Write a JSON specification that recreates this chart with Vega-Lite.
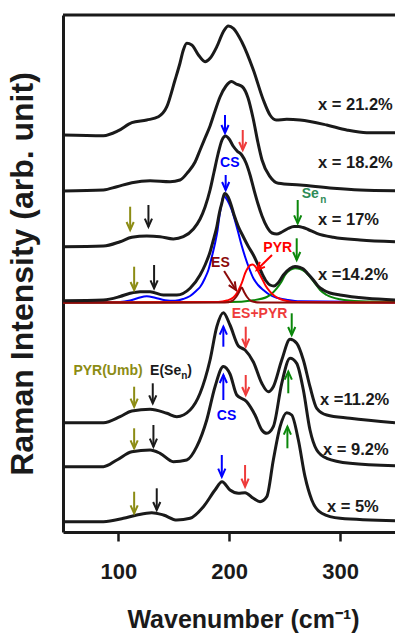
{
"$schema":"https://vega.github.io/schema/vega-lite/v6.json",
"width":332,"height":517,
"autosize":"none",
"padding":{"left":63,"top":15,"right":0,"bottom":105},
"background":"white",
"config":{"view":{"stroke":null}},
"datasets":{
"curves":[
{"s":"21.2","w":50.1,"v":397},{"s":"21.2","w":86.5,"v":396.3},{"s":"21.2","w":100,"v":401.3},{"s":"21.2","w":112.1,"v":409.3},{"s":"21.2","w":125.6,"v":412},{"s":"21.2","w":136.1,"v":415.3},{"s":"21.2","w":143.7,"v":425.3},{"s":"21.2","w":151.1,"v":452},{"s":"21.2","w":155.6,"v":469},{"s":"21.2","w":158.6,"v":482},{"s":"21.2","w":161.7,"v":488.7},{"s":"21.2","w":166.2,"v":487},{"s":"21.2","w":172.2,"v":477},{"s":"21.2","w":178.2,"v":470.3},{"s":"21.2","w":182.7,"v":473.7},{"s":"21.2","w":188.8,"v":485.3},{"s":"21.2","w":194.7,"v":500.3},{"s":"21.2","w":199.2,"v":506},{"s":"21.2","w":203.7,"v":503.7},{"s":"21.2","w":211.3,"v":490.3},{"s":"21.2","w":221.8,"v":462},{"s":"21.2","w":230.8,"v":432},{"s":"21.2","w":236.8,"v":417},{"s":"21.2","w":242.3,"v":412},{"s":"21.2","w":251.9,"v":412.7},{"s":"21.2","w":263.9,"v":412},{"s":"21.2","w":288,"v":407},{"s":"21.2","w":306,"v":402},{"s":"21.2","w":324.1,"v":399.3},{"s":"21.2","w":349.6,"v":399.3},
{"s":"18.2","w":50.1,"v":341},{"s":"18.2","w":86.5,"v":342},{"s":"18.2","w":98.6,"v":345.3},{"s":"18.2","w":112.1,"v":349.3},{"s":"18.2","w":128.6,"v":351.3},{"s":"18.2","w":146.6,"v":350.3},{"s":"18.2","w":155.6,"v":352},{"s":"18.2","w":163.1,"v":360.3},{"s":"18.2","w":169.2,"v":370},{"s":"18.2","w":173.7,"v":382},{"s":"18.2","w":178.2,"v":394},{"s":"18.2","w":182.7,"v":406},{"s":"18.2","w":187.2,"v":421},{"s":"18.2","w":191.7,"v":435},{"s":"18.2","w":197.1,"v":446},{"s":"18.2","w":202.1,"v":450.5},{"s":"18.2","w":206.2,"v":448},{"s":"18.2","w":211.6,"v":445.5},{"s":"18.2","w":217,"v":434},{"s":"18.2","w":221.5,"v":414},{"s":"18.2","w":226,"v":389},{"s":"18.2","w":229.6,"v":372},{"s":"18.2","w":236.8,"v":355.3},{"s":"18.2","w":244.3,"v":348.7},{"s":"18.2","w":263.9,"v":347},{"s":"18.2","w":293.9,"v":343.7},{"s":"18.2","w":318,"v":342},{"s":"18.2","w":349.6,"v":341.3},
{"s":"17","w":50.1,"v":285.3},{"s":"17","w":86.5,"v":286},{"s":"17","w":101.5,"v":290.3},{"s":"17","w":112.1,"v":294.7},{"s":"17","w":125.6,"v":296},{"s":"17","w":137.6,"v":295.3},{"s":"17","w":149.6,"v":293},{"s":"17","w":158.6,"v":295.3},{"s":"17","w":167.7,"v":303},{"s":"17","w":173.7,"v":313},{"s":"17","w":178.2,"v":325},{"s":"17","w":182.7,"v":342},{"s":"17","w":186.3,"v":360},{"s":"17","w":189.9,"v":378},{"s":"17","w":193.5,"v":392},{"s":"17","w":196.7,"v":396},{"s":"17","w":199.9,"v":393},{"s":"17","w":203.5,"v":386},{"s":"17","w":207.1,"v":381},{"s":"17","w":211.3,"v":377},{"s":"17","w":215.2,"v":369},{"s":"17","w":218.8,"v":357},{"s":"17","w":222.4,"v":342},{"s":"17","w":226,"v":328},{"s":"17","w":229.6,"v":316},{"s":"17","w":234.1,"v":305},{"s":"17","w":238.6,"v":299},{"s":"17","w":242.9,"v":298},{"s":"17","w":247.6,"v":300},{"s":"17","w":253.1,"v":303.5},{"s":"17","w":258.5,"v":305.5},{"s":"17","w":262.4,"v":305.5},{"s":"17","w":266.6,"v":304.5},{"s":"17","w":271.2,"v":302.5},{"s":"17","w":279,"v":298.7},{"s":"17","w":294,"v":294.7},{"s":"17","w":318,"v":292},{"s":"17","w":349.6,"v":290.3},
{"s":"14.2","w":50.1,"v":231.3},{"s":"14.2","w":86.5,"v":232},{"s":"14.2","w":101.5,"v":235.5},{"s":"14.2","w":110.6,"v":238.7},{"s":"14.2","w":119.6,"v":240.3},{"s":"14.2","w":128.6,"v":240.3},{"s":"14.2","w":140.6,"v":237},{"s":"14.2","w":152.7,"v":237},{"s":"14.2","w":164.7,"v":243.7},{"s":"14.2","w":173.7,"v":257},{"s":"14.2","w":178.2,"v":267},{"s":"14.2","w":182.7,"v":280},{"s":"14.2","w":185.7,"v":292},{"s":"14.2","w":188.8,"v":305.3},{"s":"14.2","w":191.3,"v":320},{"s":"14.2","w":193.3,"v":328.7},{"s":"14.2","w":195.8,"v":338.5},{"s":"14.2","w":199,"v":335},{"s":"14.2","w":201.7,"v":327},{"s":"14.2","w":204.4,"v":317},{"s":"14.2","w":208,"v":306},{"s":"14.2","w":212.8,"v":295},{"s":"14.2","w":217,"v":286},{"s":"14.2","w":221.8,"v":277},{"s":"14.2","w":226.1,"v":267},{"s":"14.2","w":229.4,"v":259},{"s":"14.2","w":233.3,"v":251},{"s":"14.2","w":236.8,"v":247},{"s":"14.2","w":240.4,"v":246},{"s":"14.2","w":244,"v":249},{"s":"14.2","w":248.9,"v":257},{"s":"14.2","w":254.9,"v":263.5},{"s":"14.2","w":259.4,"v":265.5},{"s":"14.2","w":263.9,"v":264.5},{"s":"14.2","w":266.9,"v":263},{"s":"14.2","w":271.2,"v":258},{"s":"14.2","w":275.9,"v":252},{"s":"14.2","w":280.1,"v":246},{"s":"14.2","w":284.9,"v":242},{"s":"14.2","w":290.9,"v":239},{"s":"14.2","w":300,"v":237},{"s":"14.2","w":324.1,"v":233.7},{"s":"14.2","w":349.6,"v":232},
{"s":"11.2","w":50.1,"v":109.3},{"s":"11.2","w":86.5,"v":109.3},{"s":"11.2","w":101.5,"v":115.3},{"s":"11.2","w":112.1,"v":121},{"s":"11.2","w":128.6,"v":122.7},{"s":"11.2","w":143.7,"v":118.7},{"s":"11.2","w":152.7,"v":115.3},{"s":"11.2","w":164.7,"v":122},{"s":"11.2","w":173.7,"v":138.7},{"s":"11.2","w":182.7,"v":172},{"s":"11.2","w":188.8,"v":205.3},{"s":"11.2","w":194.7,"v":219.3},{"s":"11.2","w":200.7,"v":207},{"s":"11.2","w":208.3,"v":186},{"s":"11.2","w":214.3,"v":182},{"s":"11.2","w":221.8,"v":170},{"s":"11.2","w":229.4,"v":148.7},{"s":"11.2","w":235.3,"v":140.3},{"s":"11.2","w":239.8,"v":145.3},{"s":"11.2","w":247.4,"v":172},{"s":"11.2","w":254.9,"v":192.7},{"s":"11.2","w":260.9,"v":188.7},{"s":"11.2","w":266.9,"v":172},{"s":"11.2","w":272.9,"v":145.3},{"s":"11.2","w":279,"v":123.7},{"s":"11.2","w":288,"v":117},{"s":"11.2","w":309,"v":113.7},{"s":"11.2","w":349.6,"v":109.3},
{"s":"9.2","w":50.1,"v":65.3},{"s":"9.2","w":86.5,"v":65.3},{"s":"9.2","w":98.6,"v":72},{"s":"9.2","w":112.1,"v":80.3},{"s":"9.2","w":128.6,"v":82},{"s":"9.2","w":137.6,"v":78.7},{"s":"9.2","w":149.6,"v":70.3},{"s":"9.2","w":161.7,"v":72},{"s":"9.2","w":170.7,"v":85.3},{"s":"9.2","w":179.7,"v":112},{"s":"9.2","w":187.2,"v":145.3},{"s":"9.2","w":194.7,"v":165.5},{"s":"9.2","w":200.7,"v":158},{"s":"9.2","w":206.8,"v":137},{"s":"9.2","w":215.8,"v":130.3},{"s":"9.2","w":223.3,"v":117},{"s":"9.2","w":229.4,"v":102},{"s":"9.2","w":233.9,"v":98.7},{"s":"9.2","w":239.8,"v":105.3},{"s":"9.2","w":247.4,"v":148.7},{"s":"9.2","w":254.9,"v":173.7},{"s":"9.2","w":260.9,"v":168.7},{"s":"9.2","w":266.9,"v":142},{"s":"9.2","w":272.9,"v":102},{"s":"9.2","w":279,"v":82},{"s":"9.2","w":288,"v":73.7},{"s":"9.2","w":309,"v":68.7},{"s":"9.2","w":349.6,"v":66.3},
{"s":"5","w":50.1,"v":10.3},{"s":"5","w":86.5,"v":10.3},{"s":"5","w":104.5,"v":13.7},{"s":"5","w":116.6,"v":17},{"s":"5","w":130.1,"v":19.3},{"s":"5","w":140.6,"v":17},{"s":"5","w":152.7,"v":12},{"s":"5","w":164.7,"v":13.7},{"s":"5","w":176.7,"v":25.3},{"s":"5","w":187.2,"v":42},{"s":"5","w":193.5,"v":50.3},{"s":"5","w":200.7,"v":42},{"s":"5","w":208.3,"v":38.7},{"s":"5","w":214.3,"v":39.3},{"s":"5","w":221.8,"v":33.7},{"s":"5","w":227.8,"v":30.3},{"s":"5","w":233.9,"v":35.3},{"s":"5","w":239.8,"v":72},{"s":"5","w":245.9,"v":105.3},{"s":"5","w":251.9,"v":119.3},{"s":"5","w":256.4,"v":117},{"s":"5","w":262.4,"v":92},{"s":"5","w":268.4,"v":55.3},{"s":"5","w":274.5,"v":32},{"s":"5","w":283.5,"v":18.7},{"s":"5","w":300,"v":13.7},{"s":"5","w":349.6,"v":11.3}
],
"fits":[
{"c":"CS","w":50,"v":229.8},{"c":"CS","w":101.5,"v":230},{"c":"CS","w":110.6,"v":231.5},{"c":"CS","w":117.8,"v":234},{"c":"CS","w":125.6,"v":235.8},{"c":"CS","w":133.1,"v":234.3},{"c":"CS","w":142.1,"v":231.8},{"c":"CS","w":151.1,"v":231.2},{"c":"CS","w":158.4,"v":233},{"c":"CS","w":164.7,"v":236},{"c":"CS","w":170.1,"v":241},{"c":"CS","w":173.7,"v":245},{"c":"CS","w":178.2,"v":254},{"c":"CS","w":181.2,"v":262},{"c":"CS","w":184.5,"v":276},{"c":"CS","w":187.2,"v":288.7},{"c":"CS","w":189.5,"v":302},{"c":"CS","w":191.1,"v":315.3},{"c":"CS","w":193.1,"v":328},{"c":"CS","w":194.9,"v":336},{"c":"CS","w":197.1,"v":334},{"c":"CS","w":199.9,"v":328.5},{"c":"CS","w":202.3,"v":322},{"c":"CS","w":205.3,"v":311},{"c":"CS","w":208.3,"v":298.7},{"c":"CS","w":211.1,"v":287},{"c":"CS","w":214.3,"v":275.3},{"c":"CS","w":217.9,"v":264},{"c":"CS","w":221.8,"v":253.7},{"c":"CS","w":226,"v":247},{"c":"CS","w":230.8,"v":242},{"c":"CS","w":236.8,"v":237},{"c":"CS","w":242.9,"v":234.3},{"c":"CS","w":253.1,"v":232},{"c":"CS","w":263.9,"v":230.7},{"c":"CS","w":349.6,"v":229.8},
{"c":"Sen","w":50,"v":229.6},{"c":"Sen","w":200,"v":229.9},{"c":"Sen","w":221.8,"v":231.8},{"c":"Sen","w":233.9,"v":235},{"c":"Sen","w":242.9,"v":243.7},{"c":"Sen","w":247,"v":250},{"c":"Sen","w":250.4,"v":257},{"c":"Sen","w":255,"v":262},{"c":"Sen","w":259.4,"v":263.8},{"c":"Sen","w":264,"v":263},{"c":"Sen","w":268.4,"v":260.3},{"c":"Sen","w":273,"v":255},{"c":"Sen","w":277.4,"v":248.7},{"c":"Sen","w":282,"v":242},{"c":"Sen","w":288,"v":237},{"c":"Sen","w":300,"v":232.8},{"c":"Sen","w":318,"v":230.8},{"c":"Sen","w":349.6,"v":230.2},
{"c":"PYR","w":50,"v":229.5},{"c":"PYR","w":190,"v":230},{"c":"PYR","w":198,"v":231.5},{"c":"PYR","w":203.7,"v":234.5},{"c":"PYR","w":207,"v":239},{"c":"PYR","w":209.8,"v":245},{"c":"PYR","w":212,"v":251},{"c":"PYR","w":214.3,"v":258.7},{"c":"PYR","w":216.5,"v":263.5},{"c":"PYR","w":219,"v":266.8},{"c":"PYR","w":221,"v":267.5},{"c":"PYR","w":223.3,"v":265.8},{"c":"PYR","w":226,"v":261},{"c":"PYR","w":229.4,"v":253.7},{"c":"PYR","w":233,"v":246},{"c":"PYR","w":236.8,"v":240.3},{"c":"PYR","w":241,"v":236},{"c":"PYR","w":245.9,"v":233},{"c":"PYR","w":252,"v":231},{"c":"PYR","w":260,"v":230},{"c":"PYR","w":349.6,"v":229.5},
{"c":"ES","w":50,"v":229.3},{"c":"ES","w":196,"v":229.4},{"c":"ES","w":202.6,"v":231},{"c":"ES","w":206.2,"v":235},{"c":"ES","w":208.9,"v":240},{"c":"ES","w":211.3,"v":244.5},{"c":"ES","w":213.4,"v":240},{"c":"ES","w":216.1,"v":235},{"c":"ES","w":219.7,"v":231},{"c":"ES","w":228,"v":229.4},{"c":"ES","w":349.6,"v":229.3}
],
"arrows":[
{"w0":196.2,"a":417,"w":196.2,"v":399,"b":"CS","d":"down"},
{"w0":212.2,"a":402,"w":212.2,"v":382,"b":"ESPYR","d":"down"},
{"w0":196.8,"a":357,"w":196.8,"v":342,"b":"CS","d":"down"},
{"w0":110.6,"a":325.3,"w":110.6,"v":302,"b":"Umb","d":"down"},
{"w0":127.1,"a":327,"w":127.1,"v":305.3,"b":"E","d":"down"},
{"w0":261.8,"a":332,"w":261.8,"v":308.7,"b":"Sen","d":"down"},
{"w0":114.2,"a":265.3,"w":114.2,"v":242,"b":"Umb","d":"down"},
{"w0":132.2,"a":267,"w":132.2,"v":243.7,"b":"E","d":"down"},
{"w0":260.9,"a":293.7,"w":260.9,"v":272,"b":"Sen","d":"down"},
{"w0":256.4,"a":218.7,"w":256.4,"v":197,"b":"Sen","d":"down"},
{"w0":214.9,"a":205.3,"w":214.9,"v":185.3,"b":"ESPYR","d":"down"},
{"w0":214.9,"a":157,"w":214.9,"v":137,"b":"ESPYR","d":"down"},
{"w0":193.3,"a":77,"w":193.3,"v":55.3,"b":"CS","d":"down"},
{"w0":214.3,"a":67,"w":214.3,"v":45.3,"b":"ESPYR","d":"down"},
{"w0":114.2,"a":145.3,"w":114.2,"v":125.3,"b":"Umb","d":"down"},
{"w0":131,"a":148.7,"w":131,"v":128.7,"b":"E","d":"down"},
{"w0":114.2,"a":103.7,"w":114.2,"v":83.7,"b":"Umb","d":"down"},
{"w0":131.6,"a":107,"w":131.6,"v":85.3,"b":"E","d":"down"},
{"w0":114.2,"a":40.3,"w":114.2,"v":18.7,"b":"Umb","d":"down"},
{"w0":134.6,"a":43.7,"w":134.6,"v":22,"b":"E","d":"down"},
{"w0":194.7,"a":185.3,"w":194.7,"v":205.3,"b":"CS","d":"up"},
{"w0":194.7,"a":132,"w":194.7,"v":157,"b":"CS","d":"up"},
{"w0":253.3,"a":138.7,"w":253.3,"v":160.3,"b":"Sen","d":"up"},
{"w0":252.5,"a":83.7,"w":252.5,"v":105.3,"b":"Sen","d":"up"},
{"w0":195.4,"a":261,"w":206.1,"v":242,"b":"ES","d":"es"},
{"w0":238.6,"a":277,"w":224.8,"v":262,"b":"PYR","d":"pyr"}
],
"samples":[
{"w":280.1,"v":422,"t":"x = 21.2%"},
{"w":280.1,"v":364,"t":"x = 18.2%"},
{"w":280.1,"v":307,"t":"x = 17%"},
{"w":280.1,"v":252,"t":"x =14.2%"},
{"w":281.9,"v":127,"t":"x =11.2%"},
{"w":284.6,"v":77,"t":"x = 9.2%"},
{"w":288.2,"v":20,"t":"x = 5%"}
],
"notes":[
{"w":191.7,"v":365.3,"t":"CS","b":"CS"},
{"w":188.8,"v":112,"t":"CS","b":"CS"},
{"w":265.4,"v":333.7,"t":"Se","b":"SenText"},
{"w":183.6,"v":265.3,"t":"ES","b":"ES"},
{"w":230.8,"v":280.3,"t":"PYR","b":"PYR"},
{"w":202.3,"v":213.7,"t":"ES+PYR","b":"ESPYR"},
{"w":59.4,"v":157,"t":"PYR(Umb)","b":"Umb"},
{"w":128.6,"v":157,"t":"E(Se","b":"E"},
{"w":162.1,"v":157,"t":")","b":"E"}
],
"subs":[
{"w":282.2,"v":329,"t":"n","b":"SenText"},
{"w":156.6,"v":153,"t":"n","b":"E"}
]
},
"encoding":{
 "x":{"field":"w","type":"quantitative","scale":{"domain":[50,349.6],"nice":false,"zero":false},
  "axis":{"values":[100,200,300],"grid":false,"domain":true,"domainColor":"#1a1a1a","domainWidth":3,"ticks":true,"tickSize":9,"tickWidth":2.5,"tickColor":"#1a1a1a","labelFont":"Liberation Sans","labelFontWeight":"bold","labelFontSize":22,"labelColor":"#1a1a1a","labelPadding":20,"title":"Wavenumber (cm⁻¹)","titleFont":"Liberation Sans","titleFontWeight":"bold","titleFontSize":25,"titleColor":"#1a1a1a","titleX":180,"titleY":95,"titleBaseline":"alphabetic","titleAlign":"center"}},
 "y":{"field":"v","type":"quantitative","scale":{"domain":[0,517],"nice":false,"zero":false},
  "axis":{"grid":false,"domain":true,"domainColor":"#1a1a1a","domainWidth":3,"ticks":false,"labels":false,"title":"Raman Intensity (arb. unit)","titleFont":"Liberation Sans","titleFontWeight":"bold","titleFontSize":32,"titleColor":"#1a1a1a","titleAngle":-90,"titleX":-41,"titleY":258.5,"titleBaseline":"middle","titleAlign":"center"}}
},
"layer":[
{"data":{"name":"fits"},
 "mark":{"type":"line","strokeWidth":2,"interpolate":"monotone"},
 "encoding":{
  "color":{"field":"c","type":"nominal","legend":null,"scale":{"domain":["CS","PYR","ES","Sen","ESPYR","SenText","Umb","E"],"range":["#0000ff","#ff0000","#8b0a0a","#0a870a","#ee3b3b","#2e8b57","#8c8c14","#1a1a1a"]}},
  "detail":{"field":"c"}
 }},
{"data":{"name":"curves"},
 "mark":{"type":"line","strokeWidth":3,"color":"#1a1a1a","interpolate":"monotone"},
 "encoding":{"detail":{"field":"s"}}},
{"data":{"name":"arrows"},
 "mark":{"type":"rule","strokeWidth":2},
 "encoding":{
  "x2":{"field":"w0"},
  "y2":{"field":"a"},
  "color":{"field":"b","type":"nominal","legend":null}
 }},
{"data":{"name":"arrows"},
 "transform":[{"filter":"datum.d == 'down'"}],
 "mark":{"type":"point","shape":"M-0.45,-1L0,0L0.45,-1","size":256,"filled":false,"strokeWidth":2,"opacity":1},
 "encoding":{"color":{"field":"b","type":"nominal","legend":null}}},
{"data":{"name":"arrows"},
 "transform":[{"filter":"datum.d == 'up'"}],
 "mark":{"type":"point","shape":"M-0.45,1L0,0L0.45,1","size":256,"filled":false,"strokeWidth":2,"opacity":1},
 "encoding":{"color":{"field":"b","type":"nominal","legend":null}}},
{"data":{"name":"arrows"},
 "transform":[{"filter":"datum.d == 'es'"}],
 "mark":{"type":"point","shape":"M-0.45,-1L0,0L0.45,-1","size":256,"filled":false,"strokeWidth":2,"opacity":1,"angle":-32},
 "encoding":{"color":{"field":"b","type":"nominal","legend":null}}},
{"data":{"name":"arrows"},
 "transform":[{"filter":"datum.d == 'pyr'"}],
 "mark":{"type":"point","shape":"M-0.45,-1L0,0L0.45,-1","size":256,"filled":false,"strokeWidth":2,"opacity":1,"angle":45},
 "encoding":{"color":{"field":"b","type":"nominal","legend":null}}},
{"data":{"name":"samples"},
 "mark":{"type":"text","font":"Liberation Sans","fontWeight":"bold","fontSize":16.5,"align":"left","baseline":"alphabetic","color":"#1a1a1a"},
 "encoding":{"text":{"field":"t"}}},
{"data":{"name":"notes"},
 "mark":{"type":"text","font":"Liberation Sans","fontWeight":"bold","fontSize":14,"align":"left","baseline":"alphabetic"},
 "encoding":{"text":{"field":"t"},"color":{"field":"b","type":"nominal","legend":null}}},
{"data":{"name":"subs"},
 "mark":{"type":"text","font":"Liberation Sans","fontWeight":"bold","fontSize":10,"align":"left","baseline":"alphabetic"},
 "encoding":{"text":{"field":"t"},"color":{"field":"b","type":"nominal","legend":null}}},
{"data":{"values":[{"v":517}]},
 "mark":{"type":"rule","strokeWidth":3,"color":"#1a1a1a"},
 "encoding":{"x":null,"y":{"field":"v","type":"quantitative"}}}
]
}
